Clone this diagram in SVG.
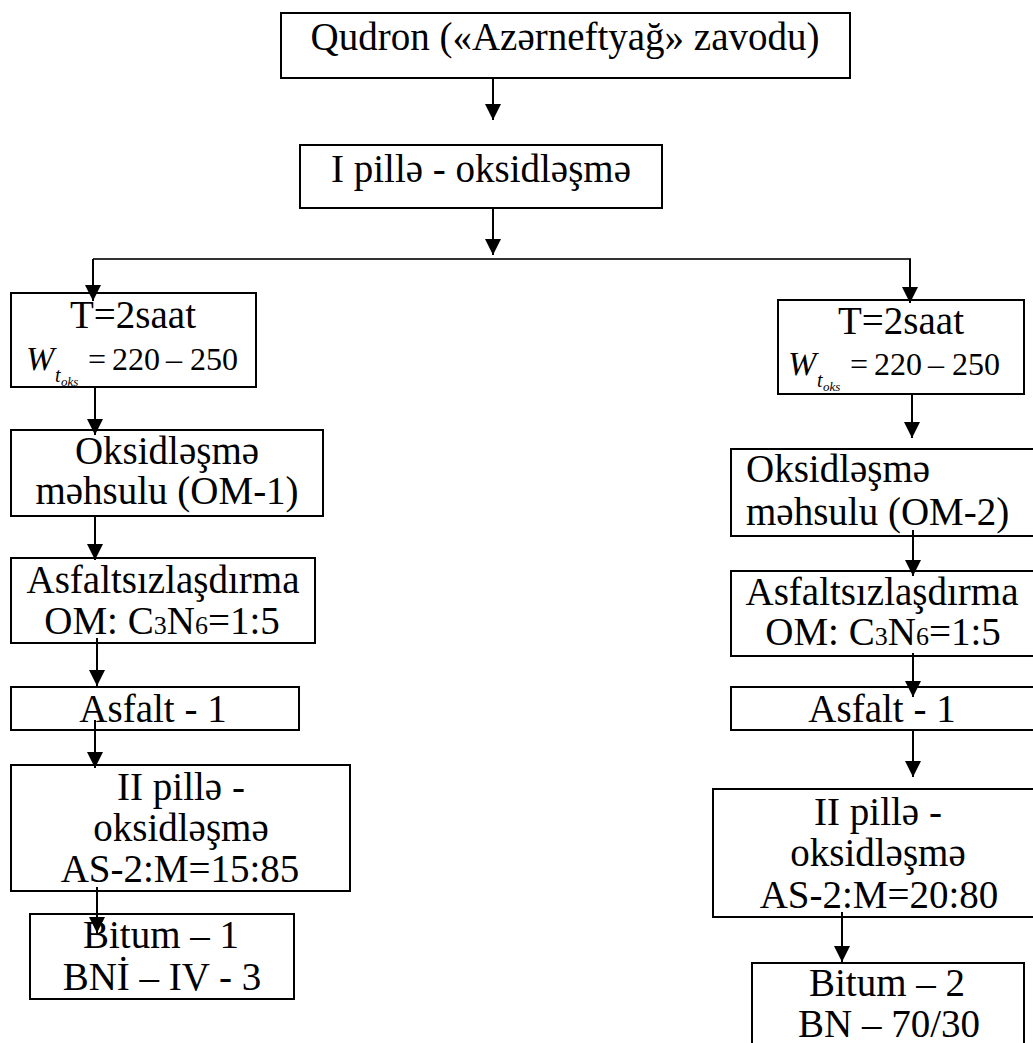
<svg xmlns="http://www.w3.org/2000/svg" width="1033" height="1043" viewBox="0 0 1033 1043">
<defs>
<style>
.box{fill:#fff;stroke:#000;stroke-width:2}
.t{font-family:"Liberation Serif","Times New Roman",serif;font-size:39px;fill:#000}
.c{text-anchor:middle}
.m{font-family:"Liberation Serif","Times New Roman",serif;font-size:32px;fill:#000}
.w{font-family:"Liberation Serif","Times New Roman",serif;font-size:34px;font-style:italic;fill:#000}
.s1{font-family:"Liberation Serif","Times New Roman",serif;font-size:20px;font-style:italic;fill:#000}
.s2{font-family:"Liberation Serif","Times New Roman",serif;font-size:13px;font-style:italic;fill:#000}
.ar{stroke:#000;stroke-width:2;fill:none;marker-end:url(#ah)}
.h{stroke:#333;stroke-width:2;fill:none}
</style>
<marker id="ah" markerUnits="userSpaceOnUse" markerWidth="16" markerHeight="16" viewBox="0 0 16 16" refX="16" refY="8" orient="auto">
<path d="M0,0 L16,8 L0,16 z" fill="#000"/>
</marker>
</defs>
<rect width="1033" height="1043" fill="#fff"/>

<g id="n-qudron"><rect class="box" x="281" y="13" width="569" height="65"/><text class="t c" x="565" y="50">Qudron («Azərneftyağ» zavodu)</text></g>
<g id="n-pille1"><rect class="box" x="300" y="145" width="362" height="63"/><text class="t c" x="481" y="182">I pillə - oksidləşmə</text></g>

<g id="n-T1"><rect class="box" x="11" y="293" width="245" height="94"/>
<text class="t c" x="133" y="328">T=2saat</text>
<text class="w" x="26" y="370">W</text><text class="s1" x="55" y="382">t</text><text class="s2" x="61" y="386">oks</text>
<text class="m"><tspan x="88" y="370">=</tspan><tspan x="112" y="370">220</tspan><tspan x="166" y="370">–</tspan><tspan x="190" y="370">250</tspan></text></g>
<g id="n-OM1"><rect class="box" x="11" y="430" width="312" height="86"/>
<text class="t c" x="167" y="464">Oksidləşmə</text><text class="t c" x="167" y="504">məhsulu (OM-1)</text></g>
<g id="n-Asf1"><rect class="box" x="11" y="558" width="304" height="85"/>
<text class="t c" x="163" y="593">Asfaltsızlaşdırma</text><text class="t c" x="162" y="634">OM: C<tspan font-size="26">3</tspan>N<tspan font-size="26">6</tspan>=1:5</text></g>
<g id="n-As1"><rect class="box" x="11" y="687" width="288" height="43"/><text class="t c" x="153" y="722">Asfalt - 1</text></g>
<g id="n-II1"><rect class="box" x="11" y="765" width="339" height="126"/>
<text class="t c" x="181" y="800">II pillə -</text><text class="t c" x="181" y="841">oksidləşmə</text><text class="t c" x="180" y="882">AS-2:M=15:85</text></g>
<g id="n-Bit1"><rect class="box" x="30" y="914" width="264" height="85"/>
<text class="t c" x="161" y="948">Bitum – 1</text><text class="t c" x="162" y="990">BNİ – IV - 3</text></g>

<g id="n-T2"><rect class="box" x="778" y="300" width="246" height="94"/>
<text class="t c" x="901" y="334">T=2saat</text>
<text class="w" x="788" y="375">W</text><text class="s1" x="817" y="387">t</text><text class="s2" x="823" y="391">oks</text>
<text class="m"><tspan x="850" y="375">=</tspan><tspan x="874" y="375">220</tspan><tspan x="928" y="375">–</tspan><tspan x="952" y="375">250</tspan></text></g>
<g id="n-OM2"><rect class="box" x="731" y="449" width="320" height="87"/>
<text class="t" x="746" y="482">Oksidləşmə</text><text class="t" x="746" y="525">məhsulu (OM-2)</text></g>
<g id="n-Asf2"><rect class="box" x="731" y="571" width="320" height="85"/>
<text class="t c" x="882" y="605">Asfaltsızlaşdırma</text><text class="t c" x="883" y="645">OM: C<tspan font-size="26">3</tspan>N<tspan font-size="26">6</tspan>=1:5</text></g>
<g id="n-As2"><rect class="box" x="731" y="687" width="320" height="43"/><text class="t c" x="882" y="722">Asfalt - 1</text></g>
<g id="n-II2"><rect class="box" x="713" y="789" width="338" height="128"/>
<text class="t c" x="878" y="825">II pillə -</text><text class="t c" x="878" y="866">oksidləşmə</text><text class="t c" x="879" y="908">AS-2:M=20:80</text></g>
<g id="n-Bit2"><rect class="box" x="752" y="963" width="272" height="100"/>
<text class="t c" x="887" y="996">Bitum – 2</text><text class="t c" x="889" y="1037">BN – 70/30</text></g>

<g id="connectors">
<line class="ar" x1="493" y1="78" x2="493" y2="120"/>
<line class="ar" x1="493" y1="208" x2="493" y2="255"/>
<line class="h" x1="93" y1="259" x2="911" y2="259"/>
<line class="ar" x1="93" y1="259" x2="93" y2="301"/>
<line class="ar" x1="910" y1="259" x2="910" y2="303"/>
<line class="ar" x1="95" y1="387" x2="95" y2="435"/>
<line class="ar" x1="95" y1="516" x2="95" y2="560"/>
<line class="ar" x1="97" y1="638" x2="97" y2="686"/>
<line class="ar" x1="95" y1="720" x2="95" y2="768"/>
<line class="ar" x1="97" y1="887" x2="97" y2="933"/>
<line class="ar" x1="912" y1="394" x2="912" y2="438"/>
<line class="ar" x1="913" y1="530" x2="913" y2="576"/>
<line class="ar" x1="913" y1="653" x2="913" y2="697"/>
<line class="ar" x1="913" y1="730" x2="913" y2="777"/>
<line class="ar" x1="842" y1="912" x2="842" y2="962"/>
</g>
</svg>
